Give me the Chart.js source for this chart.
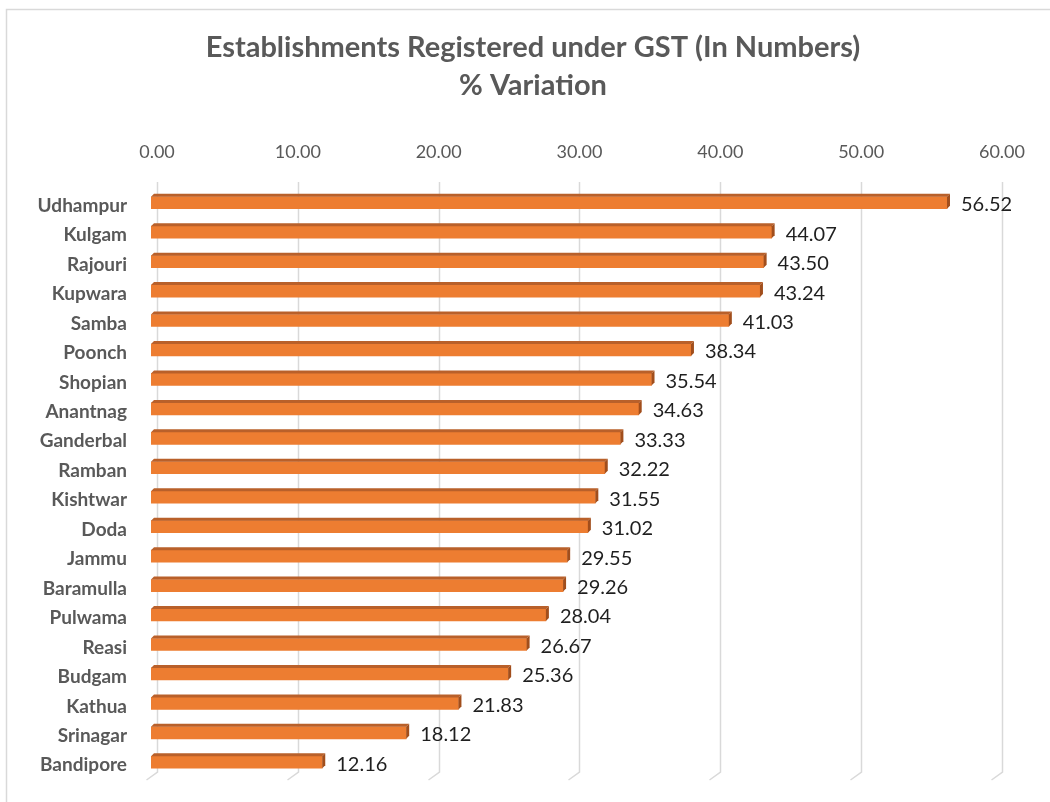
<!DOCTYPE html>
<html>
<head>
<meta charset="utf-8">
<script src="https://cdn.jsdelivr.net/npm/chart.js@4"></script>
<style>
  html, body { margin: 0; padding: 0; background: #fff; }
  #wrap { width: 1050px; height: 802px; position: relative; }
</style>
</head>
<body>
<div id="wrap"><canvas id="gstChart"></canvas></div>
<script>
// data
var districts = ['Udhampur', 'Kulgam', 'Rajouri', 'Kupwara', 'Samba', 'Poonch', 'Shopian',
                 'Anantnag', 'Ganderbal', 'Ramban', 'Kishtwar', 'Doda', 'Jammu', 'Baramulla',
                 'Pulwama', 'Reasi', 'Budgam', 'Kathua', 'Srinagar', 'Bandipore'];
var variation = [56.52, 44.07, 43.50, 43.24, 41.03, 38.34, 35.54, 34.63, 33.33, 32.22,
                 31.55, 31.02, 29.55, 29.26, 28.04, 26.67, 25.36, 21.83, 18.12, 12.16];
var titleLines = ['Establishments Registered under GST (In Numbers)', '% Variation'];
var xTicks = [0, 10, 20, 30, 40, 50, 60];

var FONT = 'Lato, "Open Sans", sans-serif';
var depth = 3;      // 3d depth of the bars
var shiftX = -6;    // bars sit a bit in front of the gridlines

// frame, gridlines with the little 3d foot, bar faces and value labels
var excel3d = {
    id: 'excel3d',
    beforeDraw: function(chart) {
        var ctx = chart.ctx;
        ctx.save();
        ctx.strokeStyle = '#d9d9d9';
        ctx.lineWidth = 1.5;
        ctx.strokeRect(6.5, 9.5, 1060, 800);
        ctx.restore();
    },
    beforeDatasetsDraw: function(chart) {
        var ctx = chart.ctx;
        var xs = chart.scales.x;
        var area = chart.chartArea;
        ctx.save();
        ctx.strokeStyle = '#d9d9d9';
        ctx.lineWidth = 1.5;
        xTicks.forEach(function(v) {
            var px = Math.round(xs.getPixelForValue(v)) + 0.5;
            ctx.beginPath();
            ctx.moveTo(px, area.top - 6);
            ctx.lineTo(px, area.bottom - 5);
            ctx.lineTo(px - 11, area.bottom + 3);
            ctx.stroke();
        });
        ctx.restore();
        ctx.save();
        ctx.translate(shiftX, 0);
    },
    afterDatasetsDraw: function(chart) {
        var ctx = chart.ctx;
        var meta = chart.getDatasetMeta(0);
        meta.data.forEach(function(bar, i) {
            var left = bar.base, right = bar.x;
            var top = bar.y - bar.height / 2, bottom = bar.y + bar.height / 2;
            // top face
            ctx.fillStyle = '#b9602a';
            ctx.beginPath();
            ctx.moveTo(left, top);
            ctx.lineTo(left + depth, top - depth);
            ctx.lineTo(right + depth, top - depth);
            ctx.lineTo(right, top);
            ctx.closePath();
            ctx.fill();
            // side face
            ctx.fillStyle = '#a14e1c';
            ctx.beginPath();
            ctx.moveTo(right, top);
            ctx.lineTo(right + depth, top - depth);
            ctx.lineTo(right + depth, bottom - depth);
            ctx.lineTo(right, bottom);
            ctx.closePath();
            ctx.fill();
            // value label
            ctx.fillStyle = '#1f1f1f';
            ctx.font = '20px ' + FONT;
            ctx.textAlign = 'left';
            ctx.textBaseline = 'middle';
            ctx.fillText(variation[i].toFixed(2), right + depth + 11, bar.y + 2);
        });
        ctx.restore();
    }
};

const ctx1 = document.getElementById('gstChart').getContext('2d');
const gstChart = new Chart(ctx1, {
    type: 'bar',
    data: {
        labels: districts,
        datasets: [{
            label: '% Variation',
            data: variation,
            backgroundColor: '#ed7d31',
            borderWidth: 0,
            barThickness: 12,
        }]
    },
    options: {
        indexAxis: 'y',
        responsive: true,
        maintainAspectRatio: false,
        animation: false,
        layout: {
            padding: { left: 16, right: 0, top: 0, bottom: 25 }
        },
        plugins: {
            legend: { display: false },
            tooltip: { enabled: false },
            title: {
                display: true,
                text: titleLines,
                color: '#595959',
                font: { family: FONT, size: 29, weight: 'bold', lineHeight: 1.3 },
                padding: { top: 29, bottom: 0 }
            }
        },
        scales: {
            x: {
                position: 'top',
                min: 0,
                max: 60,
                afterBuildTicks: function(scale) {
                    scale.ticks = xTicks.map(function(v) { return { value: v }; });
                },
                afterFit: function(scale) { scale.height = 188 - 29 - 2 * 29 * 1.3; },
                grid: { display: false, drawTicks: false },
                border: { display: false },
                ticks: {
                    padding: 25,
                    color: '#595959',
                    font: { family: FONT, size: 18 },
                    callback: function(v) { return Number(v).toFixed(2); }
                }
            },
            y: {
                afterFit: function(scale) {
                    scale.width = 141;
                    scale.paddingTop = 0;
                    scale.paddingBottom = 0;
                },
                grid: { display: false, drawTicks: false },
                border: { display: false },
                ticks: {
                    padding: 30,
                    labelOffset: 3,
                    color: '#595959',
                    font: { family: FONT, size: 19, weight: 'bold' }
                }
            },
            // empty axis on the right, keeps the plot clear of the right edge
            yPad: {
                position: 'right',
                afterFit: function(scale) {
                    scale.width = 47;
                    scale.paddingTop = 0;
                    scale.paddingBottom = 0;
                },
                grid: { display: false, drawTicks: false },
                border: { display: false },
                ticks: { display: false }
            }
        }
    },
    plugins: [excel3d]
});
</script>
</body>
</html>
